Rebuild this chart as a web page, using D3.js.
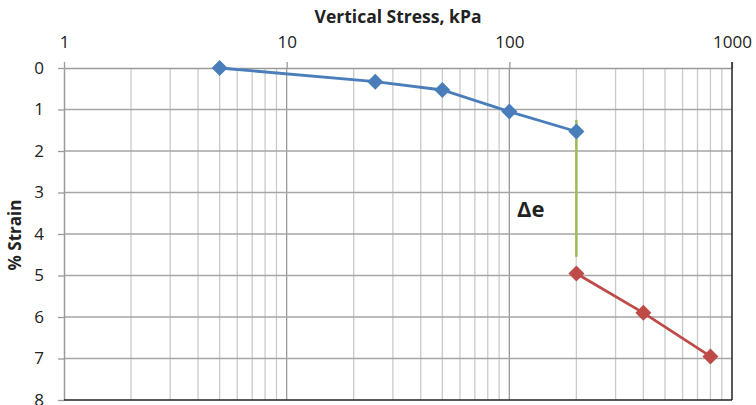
<!DOCTYPE html>
<html><head><meta charset="utf-8">
<script src="https://cdn.jsdelivr.net/npm/d3@7"></script>
<style>body{margin:0;background:#fff;overflow:hidden}svg{display:block}</style>
</head><body>
<svg id="c" width="756" height="405"></svg>
<script>
const loadingStress = [5, 25, 50, 100, 200];
const loadingStrain = [0, 0.33, 0.53, 1.05, 1.53];
const reloadStress = [200, 400, 800];
const reloadStrain = [4.95, 5.9, 6.95];
const deltaStress = [200, 200];
const deltaStrain = [1.25, 4.55];
const xTicks = [1, 10, 100, 1000];
const yTicks = [0, 1, 2, 3, 4, 5, 6, 7, 8];
const xTitle = "Vertical Stress, kPa";
const yTitle = "% Strain";
const deltaLabel = "Δe";

const svg = d3.select("#c");
const L = 64, R = 732, T = 68, B = 400;
const x = d3.scaleLog().domain([1, 1000]).range([L, R]);
const y = d3.scaleLinear().domain([0, 8]).range([T, B]);
const font = "'Open Sans', sans-serif";

// minor vertical gridlines
const minors = [];
for (let d = 1; d < 1000; d *= 10) for (let k = 2; k <= 9; k++) minors.push(d * k);
svg.append("g").selectAll("line").data(minors).join("line")
  .attr("x1", d => x(d)).attr("x2", d => x(d)).attr("y1", T).attr("y2", B)
  .attr("stroke", "#cacaca").attr("stroke-width", 1.3);
// major vertical
svg.append("g").selectAll("line").data(xTicks.slice(1, 3)).join("line")
  .attr("x1", d => x(d)).attr("x2", d => x(d)).attr("y1", T).attr("y2", B)
  .attr("stroke", "#9a9a9a").attr("stroke-width", 1.3);
// horizontal gridlines
svg.append("g").selectAll("line").data(yTicks.slice(1, 8)).join("line")
  .attr("x1", L).attr("x2", R).attr("y1", d => y(d)).attr("y2", d => y(d))
  .attr("stroke", "#a6a6a6").attr("stroke-width", 1.3);

// top axis
const xa = svg.append("g").attr("transform", `translate(0,${T})`)
  .call(d3.axisTop(x).tickValues(xTicks).tickFormat(d3.format("d")).tickSizeInner(6).tickSizeOuter(0).tickPadding(14));
xa.select(".domain").attr("stroke", "#9a9a9a").attr("stroke-width", 1.5);
xa.selectAll(".tick line").attr("stroke", "#9a9a9a").attr("stroke-width", 1.3);
xa.selectAll("text").attr("font-family", font).attr("font-size", 17).attr("fill", "#222");
// left axis
const ya = svg.append("g").attr("transform", `translate(${L},0)`)
  .call(d3.axisLeft(y).tickValues(yTicks).tickSizeInner(6).tickSizeOuter(0).tickPadding(14));
ya.select(".domain").attr("stroke", "#9a9a9a").attr("stroke-width", 1.5);
ya.selectAll(".tick line").attr("stroke", "#9a9a9a").attr("stroke-width", 1.3);
ya.selectAll("text").attr("font-family", font).attr("font-size", 17).attr("fill", "#222");

// right and bottom borders
svg.append("line").attr("x1", R).attr("x2", R).attr("y1", T - 6).attr("y2", B).attr("stroke", "#222").attr("stroke-width", 1.5);
svg.append("line").attr("x1", L).attr("x2", R).attr("y1", B).attr("y2", B).attr("stroke", "#222").attr("stroke-width", 1.5);

// titles
svg.append("text").attr("x", 398).attr("y", 23).attr("text-anchor", "middle")
  .attr("font-family", font).attr("font-weight", "bold").attr("font-size", 17.5).attr("fill", "#222").text(xTitle);
svg.append("text").attr("transform", "translate(21,235) rotate(-90)").attr("text-anchor", "middle")
  .attr("font-family", font).attr("font-weight", "bold").attr("font-size", 17).attr("fill", "#222").text(yTitle);

// delta line
const line = d3.line().x(d => x(d[0])).y(d => y(d[1]));
svg.append("line").attr("x1", x(deltaStress[1])).attr("x2", x(deltaStress[1]))
  .attr("y1", y(deltaStrain[1])).attr("y2", y(reloadStrain[0])).attr("stroke", "#d8d8d8").attr("stroke-width", 1);
svg.append("path").attr("d", line(deltaStress.map((s, i) => [s, deltaStrain[i]])))
  .attr("stroke", "#9bbb59").attr("stroke-width", 2.5).attr("fill", "none");
svg.append("text").attr("x", 517).attr("y", 217).attr("font-family", font).attr("font-weight", "bold")
  .attr("font-size", 22).attr("fill", "#222").text(deltaLabel);

function series(xs, ys, color) {
  const pts = xs.map((s, i) => [s, ys[i]]);
  svg.append("path").attr("d", line(pts)).attr("stroke", color).attr("stroke-width", 2.8).attr("fill", "none");
  svg.append("g").selectAll("path").data(pts).join("path")
    .attr("transform", d => `translate(${x(d[0])},${y(d[1])})`)
    .attr("d", "M0,-8L8,0L0,8L-8,0Z").attr("fill", color);
}
series(loadingStress, loadingStrain, "#4a7ebb");
series(reloadStress, reloadStrain, "#be4b48");
</script>
</body></html>
